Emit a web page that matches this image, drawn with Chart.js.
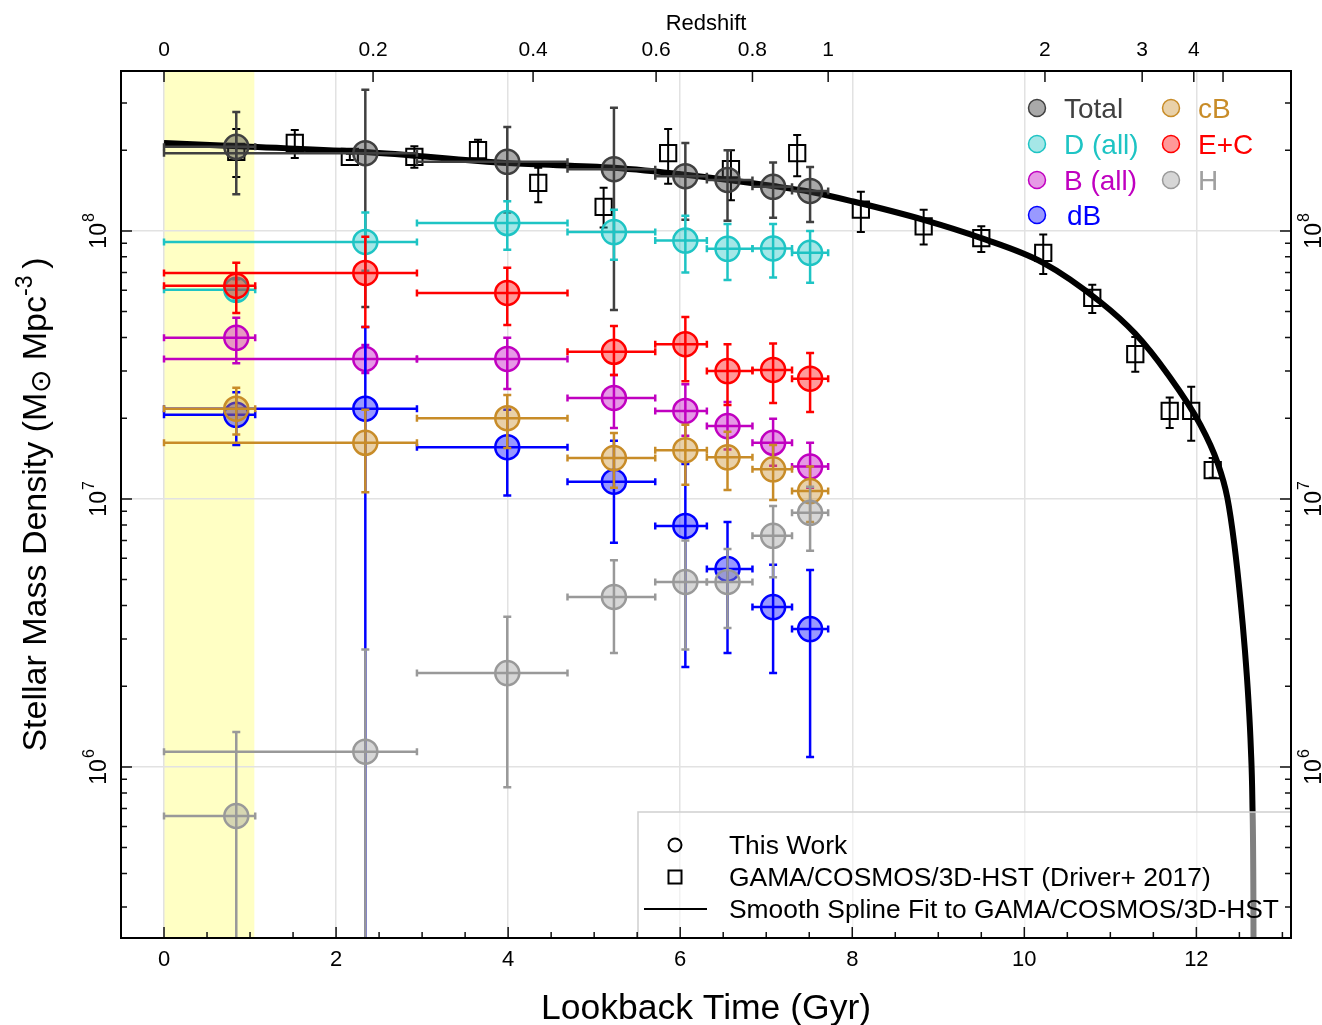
<!DOCTYPE html>
<html>
<head>
<meta charset="utf-8">
<script src="https://cdn.jsdelivr.net/npm/chart.js@4.4.1/dist/chart.umd.min.js"></script>
<style>
  body { margin: 0; background: #fff; }
  #wrap { width: 1322px; height: 1025px; position: relative; }
</style>
</head>
<body>
<div id="wrap"><canvas id="smdChart"></canvas></div>
<script>
// ---- values (lookback time in Gyr, density in Msun/Mpc^3) ----

// this work: bin centres and bin edges (shared by all morphology series)
const binTime = [0.84, 2.34, 3.99, 5.23, 6.06, 6.55, 7.08, 7.51];
const binLo = [0, 0, 2.94, 4.69, 5.71, 6.31, 6.84, 7.30];
const binHi = [1.06, 2.94, 4.69, 5.71, 6.31, 6.84, 7.30, 7.72];

const totalVal = [2.06e8, 1.95e8, 1.81e8, 1.70e8, 1.60e8, 1.55e8, 1.46e8, 1.41e8];
const totalLo = [1.37e8, 5.2e7, 1.17e8, 5.07e7, 1.10e8, 1.09e8, 1.12e8, 1.08e8];
const totalHi = [2.78e8, 3.36e8, 2.44e8, 2.88e8, 2.13e8, 2.0e8, 1.80e8, 1.73e8];

const diskVal = [6.03e7, 9.1e7, 1.07e8, 9.9e7, 9.2e7, 8.57e7, 8.6e7, 8.28e7];
const diskLo = [5.5e7, 7.1e7, 8.5e7, 7.8e7, 7.0e7, 6.56e7, 6.7e7, 6.4e7];
const diskHi = [6.6e7, 1.17e8, 1.29e8, 1.2e8, 1.14e8, 1.06e8, 1.06e8, 1.0e8];

const bulgeVal = [3.99e7, 3.33e7, 3.33e7, 2.38e7, 2.13e7, 1.87e7, 1.62e7, 1.32e7];
const bulgeLo = [3.21e7, 2.95e7, 2.57e7, 1.84e7, 1.72e7, 1.53e7, 1.33e7, 1.10e7];
const bulgeHi = [4.74e7, 3.75e7, 3.99e7, 2.9e7, 2.68e7, 2.3e7, 1.99e7, 1.62e7];

const dbVal = [2.06e7, 2.17e7, 1.56e7, 1.16e7, 7.93e6, 5.48e6, 3.95e6, 3.27e6];
const dbLo = [1.59e7, 1e5, 1.03e7, 6.86e6, 2.36e6, 2.66e6, 2.24e6, 1.09e6];
const dbHi = [2.5e7, 4.38e7, 2.15e7, 1.65e7, 1.35e7, 8.2e6, 5.68e6, 5.43e6];

const cbVal = [2.17e7, 1.62e7, 2.0e7, 1.42e7, 1.52e7, 1.43e7, 1.29e7, 1.07e7];
const cbLo = [1.74e7, 1.06e7, 1.55e7, 1.10e7, 1.13e7, 1.08e7, 9.9e6, 8.2e6];
const cbHi = [2.6e7, 2.15e7, 2.44e7, 1.76e7, 1.89e7, 1.78e7, 1.59e7, 1.32e7];

const ecVal = [6.24e7, 6.97e7, 5.87e7, 3.54e7, 3.78e7, 3.0e7, 3.03e7, 2.81e7];
const ecLo = [4.94e7, 4.38e7, 4.46e7, 2.9e7, 2.75e7, 2.24e7, 2.28e7, 2.11e7];
const ecHi = [7.6e7, 9.5e7, 7.28e7, 4.42e7, 4.77e7, 3.78e7, 3.8e7, 3.5e7];

const hVal = [6.56e5, 1.14e6, 2.24e6, 4.31e6, 4.90e6, 4.90e6, 7.28e6, 8.87e6];
const hLo = [1e5, 1e5, 8.4e5, 2.66e6, 2.74e6, 3.3e6, 5.1e6, 6.4e6];
const hHi = [1.35e6, 2.74e6, 3.63e6, 5.9e6, 7.0e6, 6.5e6, 9.4e6, 1.11e7];

// GAMA/COSMOS/3D-HST (Driver+ 2017)
const driverTime = [0.84, 1.52, 2.16, 2.91, 3.65, 4.35, 5.11, 5.86, 6.59, 7.36, 8.10, 8.83, 9.50, 10.22, 10.79, 11.29, 11.69, 11.94, 12.19];
const driverVal = [1.97e8, 2.13e8, 1.89e8, 1.89e8, 2.0e8, 1.51e8, 1.23e8, 1.95e8, 1.70e8, 1.95e8, 1.20e8, 1.04e8, 9.4e7, 8.28e7, 5.62e7, 3.47e7, 2.13e7, 2.13e7, 1.28e7];
const driverLo = [1.59e8, 1.87e8, 1.84e8, 1.72e8, 1.84e8, 1.28e8, 1.03e8, 1.50e8, 1.3e8, 1.60e8, 9.9e7, 8.9e7, 8.35e7, 6.9e7, 4.94e7, 2.98e7, 1.84e7, 1.65e7, 1.2e7];
const driverHi = [2.4e8, 2.38e8, 1.94e8, 2.07e8, 2.19e8, 1.72e8, 1.45e8, 2.40e8, 2.0e8, 2.28e8, 1.40e8, 1.2e8, 1.04e8, 9.7e7, 6.3e7, 4.02e7, 2.39e7, 2.62e7, 1.42e7];

// smooth spline fit, sampled along the drawn curve
const splineTime = [0, 1.0, 2.34, 4.0, 5.23, 6.06, 7.08, 7.51, 8.0, 8.83, 9.5, 10.22, 10.884, 11.291, 11.663, 12.047,
    12.244, 12.36, 12.442, 12.512, 12.564, 12.605, 12.634, 12.651, 12.663, 12.666];
const splineVal = [2.13e8, 2.06e8, 1.97e8, 1.79e8, 1.72e8, 1.62e8, 1.47e8, 1.40e8, 1.29e8, 1.10e8, 9.4e7, 7.6e7, 5.43e7, 4.13e7, 2.93e7, 1.89e7,
    1.37e7, 1.01e7, 6.74e6, 4.2e6, 2.73e6, 1.78e6, 1.16e6, 7.5e5, 3.19e5, 1.35e5];

// axes
const timeTicks = [0, 2, 4, 6, 8, 10, 12];
const densityTicks = [1e6, 1e7, 1e8];
const densityExps = ['6', '7', '8'];
const redshiftLabels = ['0', '0.2', '0.4', '0.6', '0.8', '1', '2', '3', '4', ''];
const redshiftTime = [0, 2.43, 4.29, 5.72, 6.84, 7.72, 10.24, 11.37, 11.97, 12.31];
const yellowBand = [0, 1.05];

const FONT = '"Liberation Sans", Arial, Helvetica, sans-serif';

const pts = (xs, ys) => xs.map((x, i) => ({ x: x, y: ys[i] }));

function seriesSet(label, vals, lo, hi, stroke, fill) {
    return {
        label: label,
        data: pts(binTime, vals),
        errLo: lo, errHi: hi, xLo: binLo, xHi: binHi,
        barColor: stroke, barWidth: 2.5, cap: 4,
        pointStyle: 'circle',
        pointRadius: 12,
        pointBackgroundColor: fill,
        pointBorderColor: stroke,
        pointBorderWidth: 2.5,
        showLine: false
    };
}

// index 0 is drawn last (on top)
const datasets = [
    seriesSet('H', hVal, hLo, hHi, '#999999', 'rgba(153,153,153,0.4)'),
    seriesSet('E+C', ecVal, ecLo, ecHi, '#ff0000', 'rgba(255,0,0,0.4)'),
    seriesSet('cB', cbVal, cbLo, cbHi, '#c88c28', 'rgba(200,140,40,0.4)'),
    seriesSet('dB', dbVal, dbLo, dbHi, '#0000ff', 'rgba(0,0,255,0.4)'),
    seriesSet('B (all)', bulgeVal, bulgeLo, bulgeHi, '#c000c0', 'rgba(192,0,192,0.4)'),
    seriesSet('D (all)', diskVal, diskLo, diskHi, '#1ec4c4', 'rgba(30,196,196,0.4)'),
    seriesSet('Total', totalVal, totalLo, totalHi, '#404040', 'rgba(64,64,64,0.45)'),
    {
        type: 'line',
        label: 'Spline',
        data: pts(splineTime, splineVal),
        borderColor: '#000',
        borderWidth: 6,
        pointRadius: 0,
        cubicInterpolationMode: 'monotone',
        fill: false
    },
    {
        label: 'Driver+ 2017',
        data: pts(driverTime, driverVal),
        errLo: driverLo, errHi: driverHi,
        barColor: '#000', barWidth: 2, cap: 4,
        pointStyle: 'rect',
        pointRadius: 11.5,
        pointBackgroundColor: 'rgba(0,0,0,0)',
        pointBorderColor: '#000',
        pointBorderWidth: 2,
        showLine: false
    }
];

// legend entries (top right)
const legendNames = ['Total', 'D (all)', 'B (all)', 'dB', 'cB', 'E+C', 'H'];
const legendText = ['#404040', '#1ec4c4', '#c000c0', '#0000ff', '#c88c28', '#ff0000', '#a0a0a0'];
const legendStroke = ['#404040', '#1ec4c4', '#c000c0', '#0000ff', '#c88c28', '#ff0000', '#999999'];
const legendFill = ['rgba(64,64,64,0.45)', 'rgba(30,196,196,0.4)', 'rgba(192,0,192,0.4)', 'rgba(0,0,255,0.4)',
    'rgba(200,140,40,0.4)', 'rgba(255,0,0,0.4)', 'rgba(153,153,153,0.4)'];

function drawPower(ctx, cx, cy, exp) {
    ctx.save();
    ctx.translate(cx, cy);
    ctx.rotate(-Math.PI / 2);
    ctx.fillStyle = '#000';
    ctx.textAlign = 'left';
    ctx.textBaseline = 'alphabetic';
    ctx.font = '23px ' + FONT;
    const wb = ctx.measureText('10').width;
    ctx.font = '16px ' + FONT;
    const we = ctx.measureText(exp).width;
    const start = -(wb + we + 1) / 2;
    ctx.font = '23px ' + FONT;
    ctx.fillText('10', start, 0);
    ctx.font = '16px ' + FONT;
    ctx.fillText(exp, start + wb + 1, -12);
    ctx.restore();
}

const figurePlugin = {
    id: 'figure',
    beforeDraw(chart) {
        const { ctx, chartArea: a, scales: { x } } = chart;
        ctx.save();
        ctx.fillStyle = '#fff';
        ctx.fillRect(0, 0, chart.width, chart.height);
        const x0 = x.getPixelForValue(yellowBand[0]);
        const x1 = x.getPixelForValue(yellowBand[1]);
        ctx.fillStyle = '#ffffc4';
        ctx.fillRect(x0, a.top, x1 - x0, a.bottom - a.top);
        ctx.restore();
    },
    // error bars go right under their own symbols
    beforeDatasetDraw(chart, args) {
        const ds = chart.data.datasets[args.index];
        if (!ds.errLo) return;
        const { ctx, chartArea: a, scales: { x, y } } = chart;
        ctx.save();
        ctx.beginPath();
        ctx.rect(a.left, a.top, a.right - a.left, a.bottom - a.top);
        ctx.clip();
        ctx.strokeStyle = ds.barColor;
        ctx.lineWidth = ds.barWidth;
        ds.data.forEach((p, i) => {
            const px = x.getPixelForValue(p.x);
            const py = y.getPixelForValue(p.y);
            const yl = y.getPixelForValue(ds.errLo[i]);
            const yh = y.getPixelForValue(ds.errHi[i]);
            ctx.beginPath();
            ctx.moveTo(px, yl); ctx.lineTo(px, yh);
            ctx.moveTo(px - ds.cap, yl); ctx.lineTo(px + ds.cap, yl);
            ctx.moveTo(px - ds.cap, yh); ctx.lineTo(px + ds.cap, yh);
            if (ds.xLo) {
                const xl = x.getPixelForValue(ds.xLo[i]);
                const xh = x.getPixelForValue(ds.xHi[i]);
                ctx.moveTo(xl, py); ctx.lineTo(xh, py);
                ctx.moveTo(xl, py - 3.5); ctx.lineTo(xl, py + 3.5);
                ctx.moveTo(xh, py - 3.5); ctx.lineTo(xh, py + 3.5);
            }
            ctx.stroke();
        });
        ctx.restore();
    },
    afterDatasetsDraw(chart) {
        const { ctx, chartArea: a } = chart;
        ctx.save();

        // top-right legend
        ctx.font = '28px ' + FONT;
        ctx.textBaseline = 'alphabetic';
        ctx.textAlign = 'left';
        const rows = [108, 144, 180, 215];
        legendNames.forEach((name, i) => {
            const col = i < 4 ? 0 : 1;
            const row = i < 4 ? i : i - 4;
            const mx = col === 0 ? 1037 : 1171;
            const my = rows[row];
            ctx.beginPath();
            ctx.arc(mx, my, 8.5, 0, Math.PI * 2);
            ctx.fillStyle = legendFill[i];
            ctx.fill();
            ctx.lineWidth = 1.5;
            ctx.strokeStyle = legendStroke[i];
            ctx.stroke();
            ctx.fillStyle = legendText[i];
            ctx.fillText(name, mx + (name === 'dB' ? 30 : 27), my + 10);
        });

        // bottom-right legend box
        const bx = 638, by = 812;
        ctx.fillStyle = 'rgba(255,255,255,0.5)';
        ctx.fillRect(bx, by, a.right - bx, a.bottom - by);
        ctx.strokeStyle = '#d0d0d0';
        ctx.lineWidth = 1.5;
        ctx.beginPath();
        ctx.moveTo(bx, a.bottom); ctx.lineTo(bx, by); ctx.lineTo(a.right, by);
        ctx.stroke();

        ctx.strokeStyle = '#000';
        ctx.lineWidth = 2;
        ctx.beginPath();
        ctx.arc(675, 845, 6.5, 0, Math.PI * 2);
        ctx.stroke();
        ctx.strokeRect(668.5, 870.5, 13, 13);
        ctx.beginPath();
        ctx.moveTo(644, 909); ctx.lineTo(707, 909);
        ctx.stroke();
        ctx.fillStyle = '#000';
        ctx.font = '26.4px ' + FONT;
        ctx.fillText('This Work', 729, 854);
        ctx.fillText('GAMA/COSMOS/3D-HST (Driver+ 2017)', 729, 886);
        ctx.fillText('Smooth Spline Fit to GAMA/COSMOS/3D-HST', 729, 918);
        ctx.restore();
    },
    afterDraw(chart) {
        const { ctx, chartArea: a, scales: { x, y } } = chart;
        ctx.save();
        ctx.strokeStyle = '#111';
        ctx.fillStyle = '#000';

        // tick marks, pointing inward
        ctx.lineWidth = 1.5;
        ctx.beginPath();
        for (let t = 0; t <= 13; t += 0.5) {
            const px = x.getPixelForValue(t);
            const len = (t % 2 === 0) ? 11 : 6;
            ctx.moveTo(px, a.bottom); ctx.lineTo(px, a.bottom - len);
        }
        redshiftTime.forEach(t => {
            const px = x.getPixelForValue(t);
            ctx.moveTo(px, a.top); ctx.lineTo(px, a.top + 11);
        });
        for (let e = 5; e <= 8; e++) {
            for (let m = 1; m <= 9; m++) {
                const v = m * Math.pow(10, e);
                const py = y.getPixelForValue(v);
                if (py < a.top || py > a.bottom) continue;
                const len = m === 1 ? 11 : 6;
                ctx.moveTo(a.left, py); ctx.lineTo(a.left + len, py);
                ctx.moveTo(a.right, py); ctx.lineTo(a.right - len, py);
            }
        }
        ctx.stroke();

        // frame
        ctx.lineWidth = 2;
        ctx.strokeStyle = '#000';
        ctx.strokeRect(a.left, a.top, a.right - a.left, a.bottom - a.top);

        // bottom tick labels
        ctx.font = '22px ' + FONT;
        ctx.textAlign = 'center';
        ctx.textBaseline = 'alphabetic';
        timeTicks.forEach(t => ctx.fillText(String(t), x.getPixelForValue(t), 966));

        // top redshift labels
        ctx.font = '21px ' + FONT;
        redshiftTime.forEach((t, i) => ctx.fillText(redshiftLabels[i], x.getPixelForValue(t), 56));
        ctx.font = '22px ' + FONT;
        ctx.fillText('Redshift', (a.left + a.right) / 2, 30);

        // axis title
        ctx.font = '35.5px ' + FONT;
        ctx.fillText('Lookback Time (Gyr)', (a.left + a.right) / 2, 1019);

        // rotated power-of-ten labels on both sides
        densityTicks.forEach((v, i) => {
            const py = y.getPixelForValue(v);
            drawPower(ctx, 106, py, densityExps[i]);
            drawPower(ctx, 1321, py, densityExps[i]);
        });

        // y title with Msun and superscript
        const parts = [
            { t: 'Stellar Mass Density (M', s: 34, dy: 0 },
            { t: '\u2299', s: 28, dy: 4 },
            { t: ' Mpc', s: 34, dy: 0 },
            { t: '-3', s: 23, dy: -14 },
            { t: '\u2009)', s: 34, dy: 0 }
        ];
        let total = 0;
        parts.forEach(p => { ctx.font = p.s + 'px ' + FONT; p.w = ctx.measureText(p.t).width; total += p.w; });
        ctx.translate(46, (a.top + a.bottom) / 2);
        ctx.rotate(-Math.PI / 2);
        ctx.textAlign = 'left';
        let cx = -total / 2;
        parts.forEach(p => {
            ctx.font = p.s + 'px ' + FONT;
            ctx.fillText(p.t, cx, p.dy);
            cx += p.w;
        });
        ctx.restore();
    }
};

new Chart(document.getElementById('smdChart'), {
    type: 'scatter',
    data: { datasets: datasets },
    options: {
        responsive: true,
        maintainAspectRatio: false,
        animation: false,
        layout: { padding: { left: 121, top: 71, right: 31, bottom: 87 } },
        plugins: {
            legend: { display: false },
            tooltip: { enabled: false }
        },
        scales: {
            x: {
                type: 'linear',
                min: -0.5,
                max: 13.1,
                afterBuildTicks: s => { s.ticks = timeTicks.map(v => ({ value: v })); },
                ticks: { display: false },
                grid: { color: '#e2e2e2', lineWidth: 1.5, drawTicks: false },
                border: { display: false }
            },
            y: {
                type: 'logarithmic',
                min: 2.3e5,
                max: 3.95e8,
                afterBuildTicks: s => { s.ticks = densityTicks.map(v => ({ value: v })); },
                ticks: { display: false },
                grid: { color: '#e2e2e2', lineWidth: 1.5, drawTicks: false },
                border: { display: false }
            }
        }
    },
    plugins: [figurePlugin]
});
</script>
</body>
</html>
